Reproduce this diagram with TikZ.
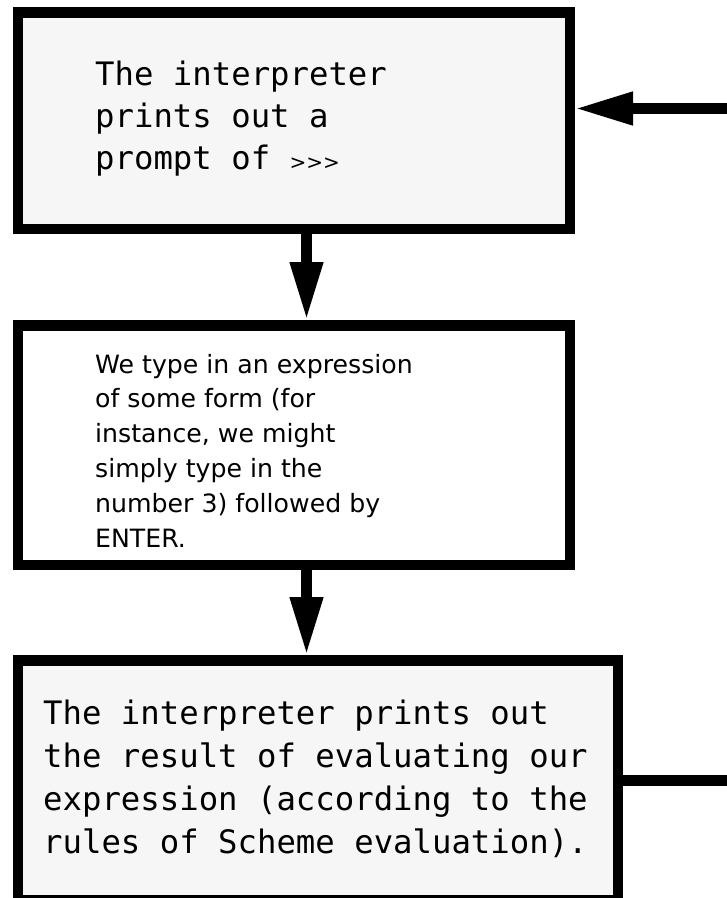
\documentclass[tikz,border=0pt]{standalone}
\usepackage{fontspec}
\setmainfont{DejaVu Sans}
\newfontfamily\boxfont{DejaVu Sans Mono}
\newfontfamily\notefont{DejaVu Sans}
\usetikzlibrary{arrows.meta, positioning, calc}
\definecolor{panelgray}{HTML}{F6F6F6}

\begin{document}
\begin{tikzpicture}[x=1pt, y=-1pt,
    stage/.style={draw=black, line width=10.5pt, fill=panelgray, inner sep=0pt},
    flow/.style={line width=10.5pt, -{Triangle[width=31pt, length=58pt]}},
    link/.style={line width=10.5pt},
    bigtext/.style={font=\boxfont\fontsize{32.3}{42.7}\selectfont, align=left,
                    anchor=base west, inner sep=0pt},
    smalltext/.style={font=\notefont\fontsize{25.2}{34.8}\selectfont, align=left,
                      anchor=base west, inner sep=0pt}]
  \useasboundingbox (0,0) rectangle (727,898);

  \node[stage, minimum width=552pt, minimum height=216.5pt] (prompt) at (293.75,120.5) {};
  \node[stage, fill=white, minimum width=552pt, minimum height=239.5pt] (typein) at (293.75,445) {};
  \node[stage, minimum width=600pt, minimum height=240pt] (result) at (317.75,780.25) {};

  % multi-line text: base anchor sits on the last line
  \node[bigtext, font=\boxfont\fontsize{32.3}{42}\selectfont] (prompttext) at (95,169)
    {The interpreter\\prints out a\\prompt of {\notefont\fontsize{20}{20}\selectfont >{}>{}>}};
  \node[smalltext] (typeintext) at (95,547)
    {We type in an expression\\of some form (for\\instance, we might\\simply type in the\\number 3) followed by\\ENTER.};
  \node[bigtext] (resulttext) at (43,853)
    {The interpreter prints out\\the result of evaluating our\\expression (according to the\\rules of Scheme evaluation).};

  \coordinate (spine) at (306.5,0);
  \coordinate (backin) at (727,108.5);
  \coordinate (backout) at (727,780.5);

  \draw[flow] (prompt.south -| spine) -- (typein.north -| spine);
  \draw[flow] (typein.south -| spine) -- (result.north -| spine);
  \draw[link] (result.east |- backout) -- (backout);
  \draw[flow] (backin) -- (prompt.east |- backin);
\end{tikzpicture}
\end{document}
